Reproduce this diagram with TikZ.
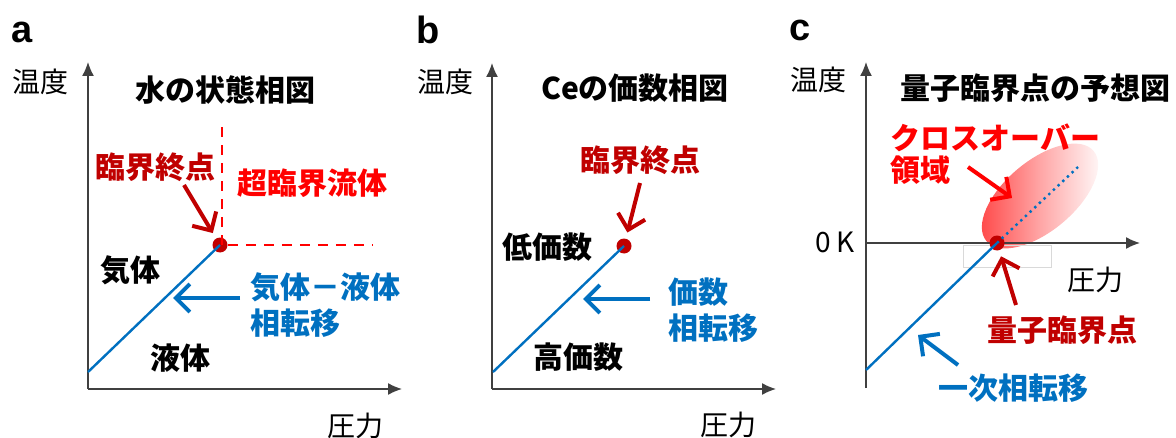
\documentclass[tikz,border=0pt]{standalone}
\usepackage{fontspec}
\usepackage{tikz}
\usetikzlibrary{arrows.meta,positioning,shapes.geometric,calc}
\newfontfamily\jp{Noto Sans CJK JP}
\newfontfamily\panelfont{Liberation Sans}
\definecolor{TBlue}{HTML}{0070C0}
\definecolor{TRed}{HTML}{FF0000}
\definecolor{DRed}{HTML}{C00000}
\definecolor{Axis}{HTML}{404040}

\begin{document}
\begin{tikzpicture}[x=0.5pt,y=-0.5pt,
    panel/.style={font=\panelfont\bfseries\fontsize{19pt}{21pt}\selectfont,inner sep=0},
    axlab/.style={font=\jp\fontsize{14pt}{17pt}\selectfont,inner sep=0},
    title/.style={font=\jp\fontsize{15pt}{18pt}\selectfont\bfseries,inner sep=0},
    region/.style={font=\jp\fontsize{15pt}{18pt}\selectfont\bfseries,inner sep=0},
    bluelab/.style={font=\jp\fontsize{15pt}{18pt}\selectfont\bfseries,text=TBlue,
      align=left,inner sep=0,anchor=west},
    axis/.style={draw=Axis,line width=0.7pt,-{Latex[length=7pt,width=6pt]}},
    phase/.style={draw=TBlue,line width=1.2pt},
    dashline/.style={draw=TRed,line width=1.1pt,dash pattern=on 5pt off 4pt},
    critpt/.style={circle,fill=DRed,inner sep=0,minimum size=7.5pt},
    bluearrow/.style={draw=TBlue,line width=2pt,-{Straight Barb[length=7pt,width=14pt]}},
    redarrow/.style={draw=#1,line width=2pt,-{Straight Barb[length=7pt,width=14pt]},
      shorten >=3pt},
    redarrow/.default=DRed
  ]
  \useasboundingbox (0,0) rectangle (1176,438);

  % ---- a: water
  \node[panel] (pa) at (22,32) {a};
  \coordinate (oa) at (88,389);
  \coordinate (ya) at (88,62);
  \coordinate (xa) at (402,389);
  \draw[axis] (oa) -- (ya);
  \draw[axis] (oa) -- (xa);
  \node[axlab] (ta) at (40,82) {温度};
  \node[axlab] (pra) at (355,426) {圧力};
  \node[title] (tia) at (225,90) {水の状態相図};
  \node[critpt] (cpa) at (220,245) {};
  \coordinate (la) at (88,372);
  \draw[phase] (la) -- (cpa.center);
  \coordinate (scTop) at (222,125);
  \coordinate (scEnd) at (372,245);
  \draw[dashline] (cpa.center) ++(2,0) -- (scTop);
  \draw[dashline] (cpa.east) -- (scEnd);
  \node[region,text=DRed] (cea) at (155,167) {臨界終点};
  \node[region,text=TRed] (sca) at (312,183) {超臨界流体};
  \node[region] (gas) at (130,270) {気体};
  \node[region] (liq) at (180,358) {液体};
  \node[bluelab] (tra) at (250,305) {気体－液体\\相転移};
  \coordinate (cetail) at (184,185);
  \draw[redarrow] (cetail) -- (cpa);
  \coordinate (trtail) at (240,298);
  \coordinate (trhead) at (173,298);
  \draw[bluearrow] (trtail) -- (trhead);

  % ---- b: Ce valence
  \node[panel] (pb) at (428,30) {b};
  \coordinate (ob) at (492,389);
  \coordinate (yb) at (492,63);
  \coordinate (xb) at (776,389);
  \draw[axis] (ob) -- (yb);
  \draw[axis] (ob) -- (xb);
  \node[axlab] (tb) at (445,82) {温度};
  \node[axlab] (prb) at (728,425) {圧力};
  \node[title] (tib) at (635,88) {Ceの価数相図};
  \node[critpt] (cpb) at (624,246) {};
  \coordinate (lb) at (493,372);
  \draw[phase] (lb) -- (cpb.center);
  \node[region,text=DRed] (ceb) at (640,160) {臨界終点};
  \node[region] (lowv) at (547,247) {低価数};
  \node[region] (highv) at (578,357) {高価数};
  \node[bluelab] (trb) at (668,310) {価数\\相転移};
  \coordinate (cebtail) at (640,183);
  \draw[redarrow] (cebtail) -- (cpb);
  \coordinate (trbtail) at (650,299);
  \coordinate (trbhead) at (583,299);
  \draw[bluearrow] (trbtail) -- (trbhead);

  % ---- c: quantum critical point
  \node[panel] (pc) at (800,30) {c};
  \coordinate (yc0) at (866,388);
  \coordinate (yc) at (866,62);
  \coordinate (xc0) at (866,243);
  \coordinate (xc) at (1140,243);
  \begin{scope}[shift={(1040,196)},rotate=40]
    \shade[left color=TRed!75,right color=white,middle color=TRed!35]
      (0,0) ellipse (70 and 35);
  \end{scope}
  \draw[draw=black!15,line width=0.3pt] (963,245) rectangle (1051,267);
  \draw[axis] (yc0) -- (yc);
  \draw[axis] (xc0) -- (xc);
  \node[axlab] (tc) at (818,80) {温度};
  \node[axlab] (zk) at (835,242) {0 K};
  \node[axlab] (prc) at (1095,280) {圧力};
  \node[title] (tic) at (1035,88) {量子臨界点の予想図};
  \node[critpt] (qcp) at (997,243) {};
  \coordinate (lc) at (866,370);
  \coordinate (xoEnd) at (1078,167);
  \draw[phase] (lc) -- (qcp.center);
  \draw[draw=TBlue,line width=1.2pt,dash pattern=on 1.2pt off 2pt] (qcp.center) -- (xoEnd);
  \node[region,text=TRed,align=left,anchor=west,
    font=\jp\fontsize{15pt}{16pt}\selectfont\bfseries] (xo) at (890,154) {クロスオーバー\\領域};
  \node[region,text=DRed] (qcl) at (1062,330) {量子臨界点};
  \node[region,text=TBlue] (fo) at (1013,388) {一次相転移};
  \coordinate (xotail) at (968,167);
  \coordinate (xohead) at (1012,198);
  \draw[redarrow=TRed,shorten >=0pt] (xotail) -- (xohead);
  \coordinate (qctail) at (1016,305);
  \draw[redarrow] (qctail) -- (qcp);
  \coordinate (fotail) at (958,365);
  \coordinate (fohead) at (918,335);
  \draw[bluearrow] (fotail) -- (fohead);
\end{tikzpicture}
\end{document}
